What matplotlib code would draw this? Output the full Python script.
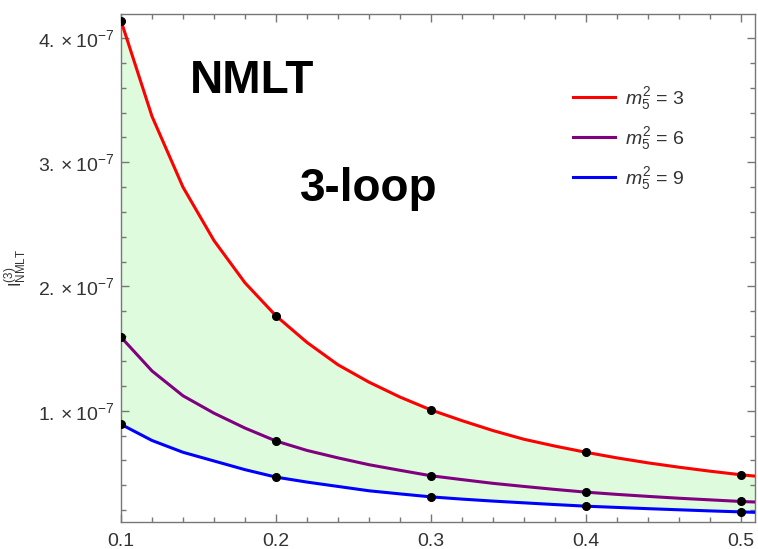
import numpy as np
import matplotlib
matplotlib.use("Agg")
import matplotlib.pyplot as plt
from matplotlib.ticker import MultipleLocator, FixedLocator

plt.rcParams['font.family'] = ['Liberation Sans', 'DejaVu Sans']
plt.rcParams['mathtext.fontset'] = 'custom'
plt.rcParams['mathtext.rm'] = 'Liberation Sans'
plt.rcParams['mathtext.it'] = 'Liberation Sans:italic'
plt.rcParams['mathtext.bf'] = 'Liberation Sans:bold'

# Data (values in units of 1e-7)
x = [0.10, 0.12, 0.14, 0.16, 0.18, 0.20, 0.22, 0.24, 0.26, 0.28, 0.30,
     0.32, 0.34, 0.36, 0.38, 0.40, 0.42, 0.44, 0.46, 0.48, 0.50, 0.51]
red = [4.14, 3.37, 2.80, 2.37, 2.03, 1.764, 1.55, 1.37, 1.23, 1.11, 1.006,
       0.92, 0.84, 0.77, 0.715, 0.665, 0.62, 0.58, 0.545, 0.513, 0.484, 0.472]
purple = [1.592, 1.32, 1.12, 0.98, 0.86, 0.756, 0.68, 0.62, 0.565, 0.52, 0.476,
          0.445, 0.415, 0.39, 0.366, 0.344, 0.326, 0.31, 0.295, 0.282, 0.269, 0.264]
blue = [0.890, 0.76, 0.665, 0.595, 0.525, 0.465, 0.425, 0.39, 0.355, 0.33, 0.306,
        0.288, 0.272, 0.258, 0.244, 0.231, 0.221, 0.211, 0.202, 0.193, 0.185, 0.181]

dot_x = [0.1, 0.2, 0.3, 0.4, 0.5]
labels = [r'$m_5^2$ = 3', r'$m_5^2$ = 6', r'$m_5^2$ = 9']
colors = ['#ff0000', '#800080', '#0000ff']

x = np.array(x)
series = [np.array(red) * 1e-7, np.array(purple) * 1e-7, np.array(blue) * 1e-7]

fig = plt.figure(figsize=(7.58, 5.49), dpi=100)
ax = fig.add_axes([121 / 758, 1 - 521.7 / 549, 634 / 758, (521.7 - 14) / 549])

ax.fill_between(x, series[2], series[0], color='#defbde', lw=0, zorder=1)
for ys, c, lab in zip(series, colors, labels):
    ax.plot(x, ys, color=c, lw=2.2, label=lab, zorder=3)
    dy = [ys[list(np.round(x, 2)).index(d)] for d in dot_x]
    ax.plot(dot_x, dy, 'o', color='black', ms=5.5, zorder=4)

ax.set_xlim(0.1, 0.5092)
ax.set_ylim(1.06e-8, 4.194e-7)

ax.xaxis.set_major_locator(FixedLocator([0.1, 0.2, 0.3, 0.4, 0.5]))
ax.xaxis.set_minor_locator(MultipleLocator(0.02))
ax.yaxis.set_major_locator(FixedLocator([1e-7, 2e-7, 3e-7, 4e-7]))
ax.yaxis.set_minor_locator(MultipleLocator(0.2e-7))
ax.set_xticklabels(['0.1', '0.2', '0.3', '0.4', '0.5'])
ax.set_yticklabels([r'$1.\times10^{-7}$', r'$2.\times10^{-7}$',
                    r'$3.\times10^{-7}$', r'$4.\times10^{-7}$'])

spine_col = '#777777'
for s in ax.spines.values():
    s.set_color(spine_col)
    s.set_linewidth(1.0)
ax.tick_params(which='both', direction='in', top=True, right=True,
               color=spine_col, width=1.0)
ax.tick_params(which='major', length=6)
ax.tick_params(which='minor', length=3.6)
ax.tick_params(axis='x', labelsize=14, labelcolor='#333333', pad=8)
ax.tick_params(axis='y', labelsize=14, labelcolor='#333333', pad=5)

ax.set_ylabel(r'$\mathrm{I}^{(3)}_{\mathrm{NMLT}}$', fontsize=12, color='#333333',
              labelpad=6)

fig.text(190 / 758, 1 - 93 / 549, 'NMLT', fontsize=33, fontweight='bold',
         ha='left', va='baseline')
fig.text(300 / 758, 1 - 201 / 549, '3-loop', fontsize=33, fontweight='bold',
         ha='left', va='baseline')

ax.legend(loc='upper left', bbox_to_anchor=(0.685, 0.895), frameon=False,
          fontsize=14, handlelength=2.16, handletextpad=0.55, labelspacing=0.67,
          labelcolor='#333333')

fig.savefig('out.png', dpi=100)
